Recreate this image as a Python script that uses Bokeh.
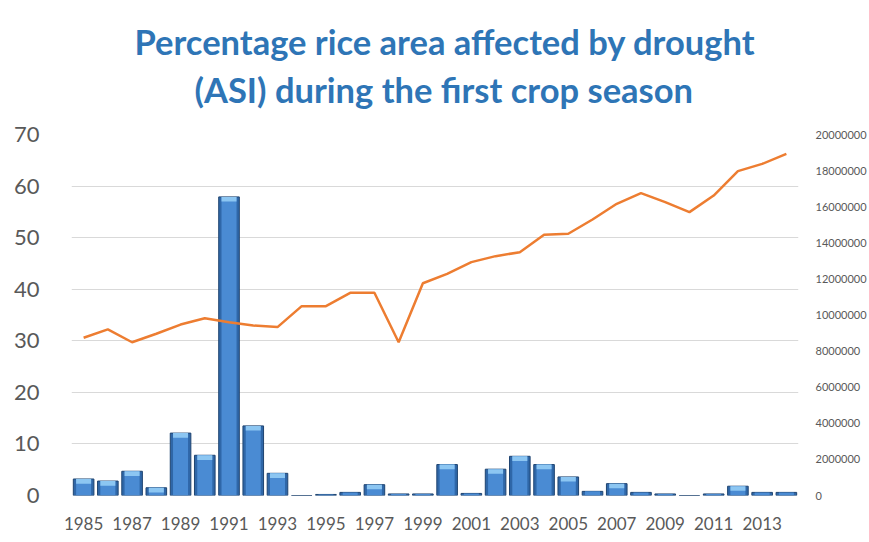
from bokeh.plotting import figure
from bokeh.models import (Range1d, LinearAxis, FixedTicker, BasicTickFormatter, Title, ColumnDataSource)
from bokeh.embed import file_html
from bokeh.resources import INLINE

years = list(range(1985, 2015))
pct_affected = [3.2, 2.8, 4.7, 1.5, 12.1, 7.8, 57.9, 13.5, 4.3, 0.0,
                0.2, 0.6, 2.1, 0.3, 0.3, 6.0, 0.4, 5.1, 7.6, 6.0,
                3.6, 0.8, 2.3, 0.6, 0.3, 0.0, 0.3, 1.8, 0.6, 0.6]
rice_area = [8740000, 9200000, 8490000, 8960000, 9470000, 9820000, 9600000, 9420000, 9330000, 10490000,
             10490000, 11230000, 11230000, 8490000, 11760000, 12280000, 12930000, 13260000, 13480000, 14440000,
             14500000, 15290000, 16160000, 16750000, 16250000, 15700000, 16620000, 17970000, 18370000, 18930000]
left_ticks = [0, 10, 20, 30, 40, 50, 60, 70]
right_ticks = [0, 2000000, 4000000, 6000000, 8000000, 10000000, 12000000, 14000000, 16000000, 18000000, 20000000]
year_ticks = list(range(1985, 2014, 2))
title_lines = ["Percentage rice area affected by drought", "(ASI) during the first crop season"]

show = [v >= 1.5 for v in pct_affected]
hl_top = [v if s else 0 for v, s in zip(pct_affected, show)]
hl_bot = [v - 0.9 if s else 0 for v, s in zip(pct_affected, show)]
src = ColumnDataSource(dict(x=years, v=pct_affected, ht=hl_top, hb=hl_bot))

p = figure(width=869, height=542, output_backend="svg", toolbar_location=None,
           x_range=Range1d(1984.5, 2014.5), y_range=Range1d(0, 70),
           min_border_left=71, min_border_right=68, min_border_bottom=47, min_border_top=134,
           background_fill_color="white", border_fill_color="white", outline_line_color=None)
p.title = None
p.extra_y_ranges = {"area": Range1d(0, 20000000)}

# grid
p.xgrid.grid_line_color = None
p.ygrid.grid_line_color = "#d9d9d9"
p.ygrid.grid_line_width = 1
p.yaxis.ticker = FixedTicker(ticks=left_ticks)
p.xaxis.ticker = FixedTicker(ticks=year_ticks)

for ax in (p.xaxis[0], p.yaxis[0]):
    ax.axis_line_color = None
    ax.major_tick_line_color = None
    ax.minor_tick_line_color = None
    ax.major_label_text_color = "#595959"
    ax.major_label_text_font = "Lato"

p.yaxis.major_label_text_font_size = "22px"
p.yaxis.major_label_standoff = 26
p.xaxis.major_label_text_font_size = "17px"
p.xaxis.major_label_standoff = 15
p.xaxis.formatter = BasicTickFormatter(use_scientific=False)

ra = LinearAxis(y_range_name="area", ticker=FixedTicker(ticks=right_ticks),
                formatter=BasicTickFormatter(use_scientific=False))
ra.axis_line_color = None
ra.major_tick_line_color = None
ra.minor_tick_line_color = None
ra.major_label_text_color = "#595959"
ra.major_label_text_font = "Lato"
ra.major_label_text_font_size = "11px"
ra.major_label_standoff = 11
p.add_layout(ra, "right")

# bars with a bevel look
p.vbar(x="x", top="v", bottom=0, width=0.85, source=src,
       fill_color="#2f67a8", line_color="#1f4470", line_width=1)
p.vbar(x="x", top="v", bottom=0, width=0.62, source=src,
       fill_color="#4a8bd3", line_color=None)
p.vbar(x="x", top="ht", bottom="hb", width=0.62, source=src,
       fill_color="#8cc6f2", line_color=None)

# line on right axis
p.line(years, rice_area, y_range_name="area", line_color="#ed7d31", line_width=2.5)

# spacer between frame and title
p.add_layout(Title(text=" ", text_font_size="12px", standoff=8), "above")
# two-line title (first added sits closest to the frame)
p.add_layout(Title(text=title_lines[1], align="left", text_font="Lato", text_font_style="bold",
                   text_font_size="34.5px", text_color="#2E75B6", standoff=1, offset=123), "above")
p.add_layout(Title(text=title_lines[0], align="left", text_font="Lato", text_font_style="bold",
                   text_font_size="34.5px", text_color="#2E75B6", standoff=10, offset=63), "above")

open("out.html", "w").write(file_html(p, INLINE))
